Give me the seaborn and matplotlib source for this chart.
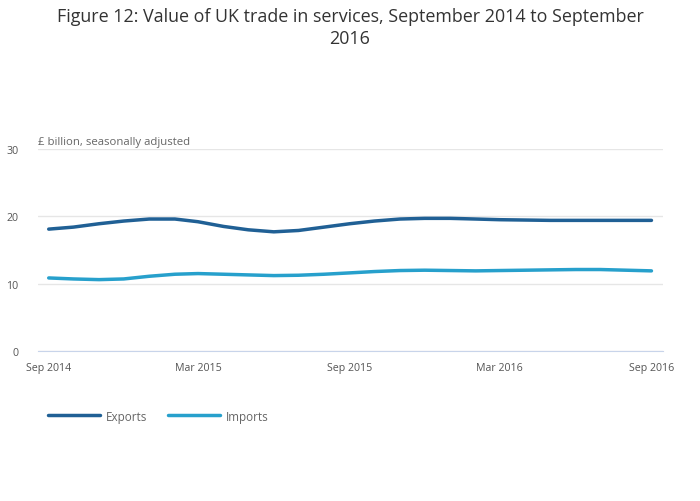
import matplotlib.pyplot as plt
import matplotlib.dates as mdates
import numpy as np
import pandas as pd
import seaborn as sns

months = pd.date_range('2014-09-01', '2016-09-01', freq='MS')
exports = [18.1, 18.4, 18.9, 19.3, 19.6, 19.6, 19.2, 18.5, 18.0, 17.7, 17.9, 18.4,
           18.9, 19.3, 19.6, 19.7, 19.7, 19.6, 19.5, 19.45, 19.4, 19.4, 19.4, 19.4, 19.4]
imports = [10.85, 10.7, 10.6, 10.7, 11.1, 11.4, 11.5, 11.4, 11.3, 11.2, 11.25, 11.4,
           11.6, 11.8, 11.95, 12.0, 11.95, 11.9, 11.95, 12.0, 12.05, 12.1, 12.1, 12.0, 11.9]
tick_dates = pd.to_datetime(['2014-09-01', '2015-03-01', '2015-09-01', '2016-03-01', '2016-09-01'])

df = pd.DataFrame({'month': list(months) * 2,
                   'value': exports + imports,
                   'series': ['Exports'] * len(months) + ['Imports'] * len(months)})

sns.set_style('white')
plt.rcParams['font.family'] = ['Open Sans', 'DejaVu Sans']

fig = plt.figure(figsize=(7, 5.02), dpi=100)
ax = fig.add_axes([38 / 700, 1 - 352 / 502, (663 - 38) / 700, (352 - 150) / 502])

sns.lineplot(data=df, x='month', y='value', hue='series',
             palette={'Exports': '#206095', 'Imports': '#27a0cc'},
             linewidth=2.5, ax=ax, legend=False)

ax.set_ylim(0, 30)
ax.set_yticks([0, 10, 20, 30])
ax.set_xlim(months[0] - pd.Timedelta(days=13), months[-1] + pd.Timedelta(days=14))
ax.set_xticks(tick_dates)
ax.xaxis.set_major_formatter(mdates.DateFormatter('%b %Y'))
ax.grid(axis='y', color='#e6e6e6', linewidth=1)
ax.set_axisbelow(True)
for s in ['top', 'right', 'left']:
    ax.spines[s].set_visible(False)
ax.spines['bottom'].set_color('#c8d4ea')
ax.tick_params(axis='x', length=6, color='#c8d4ea', labelsize=7.7, labelcolor='#555555', pad=2)
ax.tick_params(axis='y', length=0, labelsize=7.7, labelcolor='#555555', pad=14)
ax.set_xlabel('')
ax.set_ylabel('')

ax.text(0, 1.01, '£ billion, seasonally adjusted', transform=ax.transAxes,
        fontsize=8.2, color='#666666', ha='left', va='bottom')

fig.suptitle('Figure 12: Value of UK trade in services, September 2014 to September\n2016',
             y=1 - 8 / 502, va='top', fontsize=12.9, color='#333333', linespacing=1.25)

# legend
lx = [48, 168]
for x0, name, c in zip(lx, ['Exports', 'Imports'], ['#206095', '#27a0cc']):
    fig.add_artist(plt.Line2D([x0 / 700, (x0 + 52) / 700], [1 - 416 / 502] * 2,
                              color=c, linewidth=2.5))
    fig.text((x0 + 58) / 700, 1 - 417 / 502, name, fontsize=8.4, color='#666666', va='center')

fig.savefig('out.png', dpi=100)
